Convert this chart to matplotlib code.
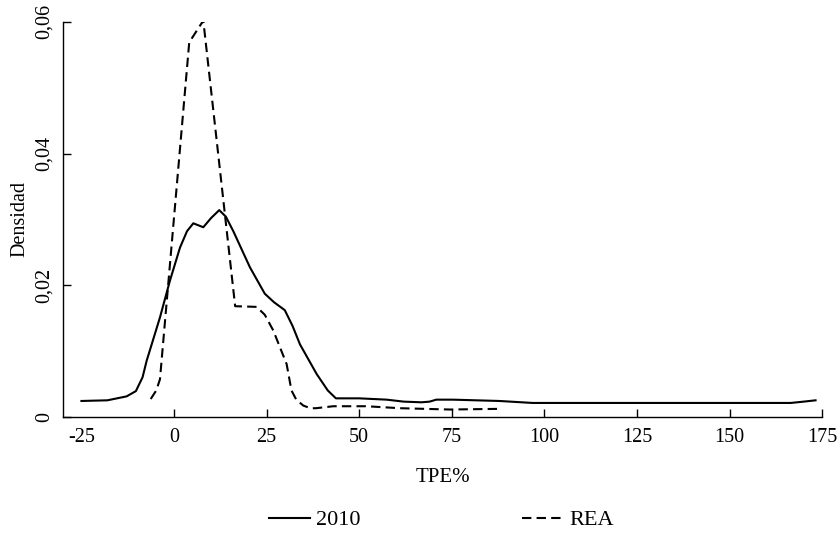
import matplotlib
matplotlib.use('Agg')
import matplotlib.pyplot as plt

plt.rcParams['font.family'] = ['Liberation Serif', 'DejaVu Serif']
plt.rcParams['axes.unicode_minus'] = False

# Serie 2010 (densidad estimada)
x_2010 = [-25, -18, -12.8, -10.3, -8.5, -7.4, -3.8, -1.1, 1.6, 3.5, 5.2, 7.9,
          10, 12.2, 14, 16.0, 20.5, 24.5, 27, 29.9, 32, 34.0, 38.5, 41.5, 43.7,
          50, 57.4, 62, 66.8, 69, 70.8, 75.3, 87.8, 96.8, 110, 130, 150, 166.5,
          170, 173.2]
y_2010 = [0.0024, 0.0025, 0.0031, 0.0039, 0.0060, 0.0085, 0.0151, 0.0207,
          0.0257, 0.0282, 0.0294, 0.0288, 0.0302, 0.0314, 0.0304, 0.0282,
          0.0227, 0.0187, 0.0174, 0.0162, 0.0138, 0.0110, 0.0065, 0.0040,
          0.0028, 0.0028, 0.0026, 0.0023, 0.0022, 0.0023, 0.0026, 0.0026,
          0.0024, 0.0021, 0.0021, 0.0021, 0.0021, 0.0021, 0.0023, 0.0025]

# Serie REA
x_rea = [-6.3, -4.8, -3.8, 4.1, 7.9, 16.5, 22.3, 24.5, 26.8, 30.4, 31.7, 33.0,
         34.9, 36.8, 38.3, 43.0, 51.9, 61.0, 74.5, 87.5]
y_rea = [0.0027, 0.0040, 0.0057, 0.0569, 0.0602, 0.0168, 0.0167, 0.0155,
         0.0131, 0.0080, 0.0040, 0.0026, 0.0017, 0.0013, 0.0013, 0.0016,
         0.0016, 0.0013, 0.0011, 0.0012]

xticks = [-25, 0, 25, 50, 75, 100, 125, 150, 175]
yticks = [0, 0.02, 0.04, 0.06]
ytick_labels = ['0', '0,02', '0,04', '0,06']

fig = plt.figure(figsize=(8.39, 5.35), dpi=100)
ax = fig.add_axes([0.075, 0.221, 0.905, 0.738])

ax.plot(x_2010, y_2010, color='black', lw=1.5, label='2010')
ax.plot(x_rea, y_rea, color='black', lw=1.5, ls=(0, (4.5, 2.5)), label='REA')

ax.set_xlim(-30, 175)
ax.set_ylim(0, 0.06)
ax.set_xticks(xticks)
ax.set_xticklabels([str(t) for t in xticks])
ax.set_yticks(yticks)
ax.set_yticklabels(ytick_labels, rotation=90, va='center')
ax.tick_params(direction='in', length=6, width=1, labelsize=14.5)
ax.tick_params(axis='x', pad=8)
ax.tick_params(axis='y', pad=6.5)
ax.xaxis.get_major_ticks()[0].tick1line.set_visible(False)

for s in ['top', 'right']:
    ax.spines[s].set_visible(False)
for s in ['left', 'bottom']:
    ax.spines[s].set_linewidth(1.0)

ax.set_xlabel('TPE%', fontsize=15, labelpad=15)
ax.set_ylabel('Densidad', fontsize=14.5, labelpad=4)

fig.legend(loc='center', bbox_to_anchor=(0.526, 0.028), ncol=2, frameon=False,
           fontsize=16, handlelength=1.85, handletextpad=0.27, columnspacing=7.3)

fig.savefig('out.png', dpi=100)
